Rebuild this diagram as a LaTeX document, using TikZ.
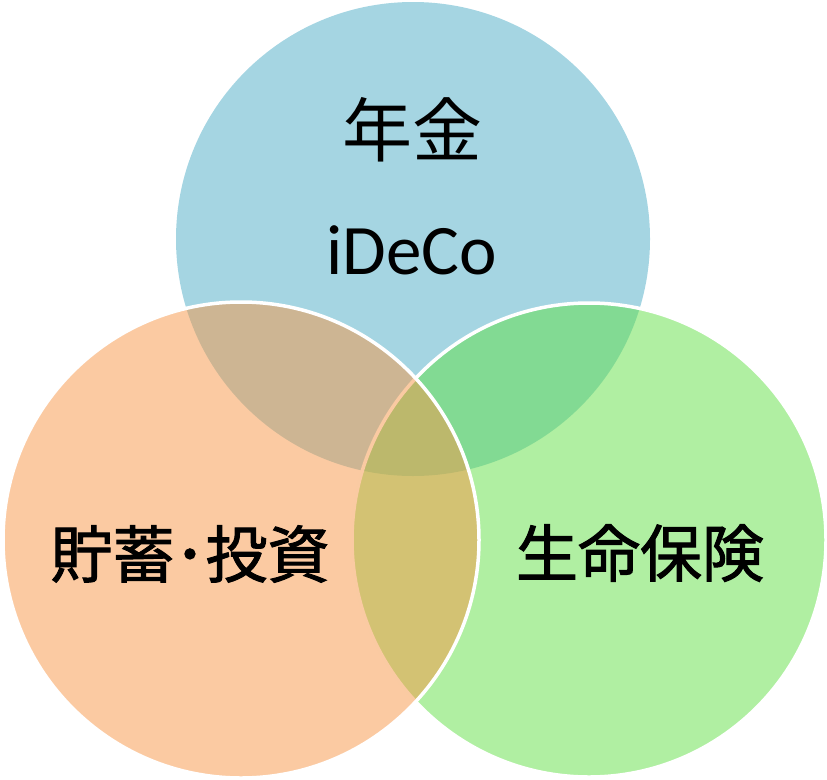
\documentclass[tikz,border=0pt]{standalone}
\usepackage{fontspec}
\setmainfont{Carlito}
\newfontfamily\cjk{Noto Sans CJK JP}
\newfontfamily\cjkm[FakeBold=1.6]{Noto Sans CJK JP}
\definecolor{blueC}{HTML}{4BACC6}
\definecolor{greenC}{RGB}{97,223,69}
\definecolor{orangeC}{HTML}{F79646}
\tikzset{
  venn/.style={fill opacity=0.5, draw opacity=1, draw=white, line width=3.5pt},
  lbl/.style={inner sep=0pt, anchor=center, text=black}
}
\begin{document}
\begin{tikzpicture}[x=1pt,y=-1pt]
\useasboundingbox (0,0) rectangle (827,779);
\coordinate (cb) at (413,239);
\coordinate (cg) at (589,540);
\coordinate (co) at (241,540);
\fill[blueC, fill opacity=0.5] (cb) circle[radius=237pt];
\draw[venn, fill=greenC] (cg) circle[radius=237pt];
\draw[venn, fill=orangeC] (co) circle[radius=238pt];
\node[lbl] (t1) at (412,130) {\cjk\fontsize{70}{80}\selectfont 年金};
\node[lbl] (t2) at (412,250) {\fontsize{71}{80}\selectfont iDeCo};
\node[lbl] (t3) at (190,554) {\cjkm\fontsize{62}{70}\selectfont 貯蓄･投資};
\node[lbl] (t4) at (640,553) {\cjkm\fontsize{62}{70}\selectfont 生命保険};
\end{tikzpicture}
\end{document}
